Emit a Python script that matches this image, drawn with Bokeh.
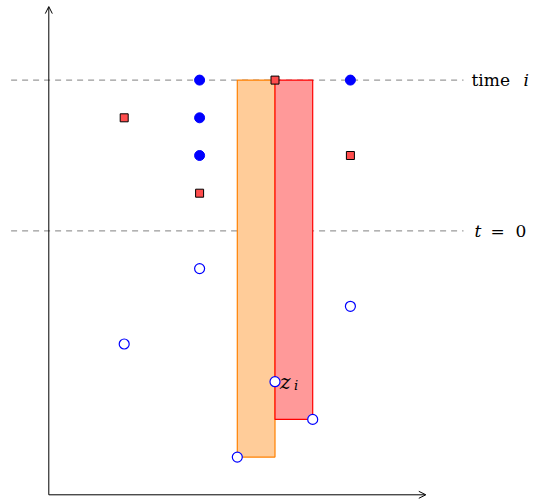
from bokeh.plotting import figure
from bokeh.models import Arrow, OpenHead, Range1d
from bokeh.core.properties import value
from bokeh.embed import file_html
from bokeh.resources import INLINE

# data
filled_x = [4, 4, 4, 8]
filled_y = [11, 10, 9, 11]
square_x = [2, 4, 6, 8]
square_y = [10, 8, 11, 9]
open_x = [2, 4, 5, 6, 7, 8]
open_y = [4, 6, 1, 3, 2, 5]
bar_left = [5, 6]
bar_right = [6, 7]
bar_bottom = [1, 2]
bar_top = [11, 11]
bar_fill = ["#ffcc99", "#ff9999"]
bar_line = ["#ff8000", "#ff0000"]
hline_y = [11, 7]
hline_x0 = -1
hline_x1 = 11
axis_x_end = 10
axis_y_end = 12.95
zi_x, zi_y = 6, 3

W, H = 533, 504
sx = 37.7
x0 = 48.3
y0 = 494.3
p = figure(width=W, height=H, output_backend="svg", toolbar_location=None,
           min_border=0, x_range=Range1d(-x0 / sx, (W - x0) / sx),
           y_range=Range1d(-(H - y0) / sx, y0 / sx))
p.axis.visible = False
p.grid.visible = False
p.outline_line_color = None

# dashed lines
for yy in hline_y:
    p.segment(x0=[hline_x0], y0=[yy], x1=[hline_x1], y1=[yy],
              line_color="#808080", line_width=1, line_dash="6 5")

# bars
p.quad(left=bar_left, right=bar_right, bottom=bar_bottom, top=bar_top,
       fill_color=bar_fill, line_color=bar_line, line_width=1.2)

# axes
p.add_layout(Arrow(x_start=0, y_start=0, x_end=axis_x_end, y_end=0,
                   line_color="black", line_width=1,
                   end=OpenHead(size=7, line_color="black", line_width=1)))
p.add_layout(Arrow(x_start=0, y_start=0, x_end=0, y_end=axis_y_end,
                   line_color="black", line_width=1,
                   end=OpenHead(size=7, line_color="black", line_width=1)))

# points
p.scatter(filled_x, filled_y, marker="circle", size=10,
          fill_color="#0000ff", line_color="#0000ff")
p.scatter(open_x, open_y, marker="circle", size=10,
          fill_color="white", line_color="#0000ff", line_width=1.2)
p.scatter(square_x, square_y, marker="square", size=8,
          fill_color="#ff4d4d", line_color="black", line_width=1)

# labels
font = value("DejaVu Serif")
common = dict(text_font=font, text_baseline="middle", text_align="left",
              text_color="black")
p.text(x=[hline_x1], y=[hline_y[0]], text=["time"], x_offset=8,
       text_font_size="17px", **common)
p.text(x=[hline_x1], y=[hline_y[0]], text=["i"], x_offset=60,
       text_font_size="17px", text_font_style="italic", **common)
p.text(x=[hline_x1], y=[hline_y[1]], text=["t"], x_offset=11,
       text_font_size="17px", text_font_style="italic", **common)
p.text(x=[hline_x1], y=[hline_y[1]], text=["="], x_offset=27,
       text_font_size="17px", **common)
p.text(x=[hline_x1], y=[hline_y[1]], text=["0"], x_offset=52,
       text_font_size="17px", **common)
p.text(x=[zi_x], y=[zi_y], text=["z"], x_offset=5,
       text_font_size="20px", text_font_style="italic", **common)
p.text(x=[zi_x], y=[zi_y], text=["i"], x_offset=19, y_offset=4,
       text_font_size="13px", text_font_style="italic", **common)

open("out.html", "w").write(file_html(p, INLINE))
